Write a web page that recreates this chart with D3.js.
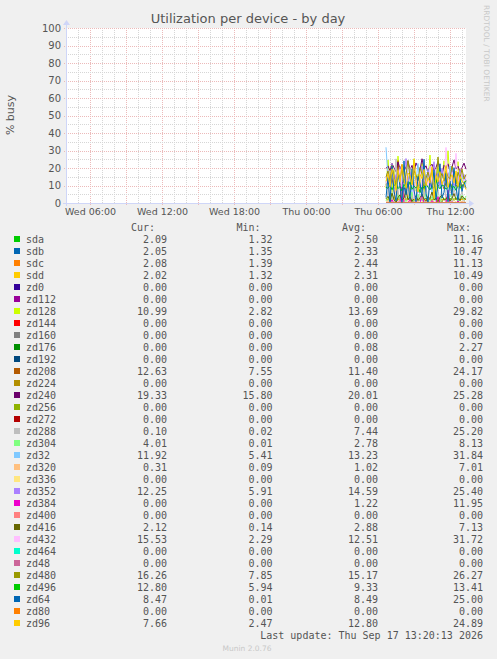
<!DOCTYPE html>
<html>
<head>
<meta charset="utf-8">
<script src="https://cdn.jsdelivr.net/npm/d3@7"></script>
<style>
    body { margin: 0; background: #F0F0F0; }
    svg { display: block; }
</style>
</head>
<body>
<svg class="chart"></svg>
<script>
//
// Munin style "Utilization per device - by day" graph drawn with D3.
//

var deviceNames = ["sda", "sdb", "sdc", "sdd", "zd0", "zd112", "zd128", "zd144", "zd160", "zd176", "zd192",
    "zd208", "zd224", "zd240", "zd256", "zd272", "zd288", "zd304", "zd32", "zd320", "zd336", "zd352",
    "zd384", "zd400", "zd416", "zd432", "zd464", "zd48", "zd480", "zd496", "zd64", "zd80", "zd96"];

var curValues = [2.09, 2.05, 2.08, 2.02, 0, 0, 10.99, 0, 0, 0, 0, 12.63, 0, 19.33, 0, 0, 0.10, 4.01, 11.92, 0.31, 0,
    12.25, 0, 0, 2.12, 15.53, 0, 0, 16.26, 12.80, 8.47, 0, 7.66];
var minValues = [1.32, 1.35, 1.39, 1.32, 0, 0, 2.82, 0, 0, 0, 0, 7.55, 0, 15.80, 0, 0, 0.02, 0.01, 5.41, 0.09, 0,
    5.91, 0, 0, 0.14, 2.29, 0, 0, 7.85, 5.94, 0.01, 0, 2.47];
var avgValues = [2.50, 2.33, 2.44, 2.31, 0, 0, 13.69, 0, 0, 0.08, 0, 11.40, 0, 20.01, 0, 0, 7.44, 2.78, 13.23, 1.02, 0,
    14.59, 1.22, 0, 2.88, 12.51, 0, 0, 15.17, 9.33, 8.49, 0, 12.80];
var maxValues = [11.16, 10.47, 11.13, 10.49, 0, 0, 29.82, 0, 0, 2.27, 0, 24.17, 0, 25.28, 0, 0, 25.20, 8.13, 31.84, 7.01, 0,
    25.40, 11.95, 0, 7.13, 31.72, 0, 0, 26.27, 13.41, 25.00, 0, 24.89];

// Samples (every 10 minutes on Thu Sep 17) - the graph has no data before 06:40.
var sampleTimes = ["06:40", "06:50", "07:00", "07:10", "07:20", "07:30", "07:40", "07:50", "08:00", "08:10", "08:20",
    "08:30", "08:40", "08:50", "09:00", "09:10", "09:20", "09:30", "09:40", "09:50", "10:00", "10:10", "10:20",
    "10:30", "10:40", "10:50", "11:00", "11:10", "11:20", "11:30", "11:40", "11:50", "12:00", "12:10", "12:20",
    "12:30", "12:40", "12:50", "13:00", "13:10", "13:20"];

var flatZero = [0, 0, 0, 0, 0, 0, 0, 0, 0, 0, 0, 0, 0, 0, 0, 0, 0, 0, 0, 0, 0, 0, 0, 0, 0, 0, 0, 0, 0, 0, 0, 0, 0, 0, 0, 0, 0, 0, 0, 0, 0];

var sda = [2.1, 1.8, 2.4, 1.6, 3.0, 2.2, 1.5, 2.8, 11.16, 2.3, 1.9, 2.6, 1.4, 2.0, 3.1, 1.7, 2.2, 1.32, 2.5, 2.9, 1.8, 2.4, 2.0, 1.6, 3.3, 2.1, 1.9, 2.7, 1.5, 2.2, 2.0, 1.8, 2.6, 1.7, 2.3, 1.9, 2.5, 1.6, 2.4, 1.8, 2.09];
var sdb = [1.9, 2.2, 1.6, 2.5, 1.8, 2.0, 2.7, 1.5, 2.1, 10.47, 1.8, 2.3, 1.7, 2.6, 1.9, 1.35, 2.2, 2.4, 1.6, 2.0, 2.8, 1.7, 2.1, 1.9, 2.3, 1.6, 2.5, 2.0, 1.8, 2.2, 1.5, 2.4, 1.9, 2.1, 1.7, 2.3, 2.0, 1.6, 2.2, 1.9, 2.05];
var sdc = [2.3, 1.7, 2.0, 2.6, 1.9, 11.13, 2.2, 1.6, 2.4, 2.0, 1.8, 2.7, 1.5, 2.3, 1.9, 2.1, 2.5, 1.39, 2.2, 2.8, 1.7, 2.0, 2.4, 1.6, 2.1, 2.9, 1.8, 2.3, 2.0, 1.7, 2.5, 2.2, 1.6, 2.4, 1.9, 2.1, 2.6, 1.8, 2.0, 2.3, 2.08];
var sdd = [1.8, 2.4, 1.6, 2.1, 2.5, 1.9, 1.7, 2.2, 2.0, 1.5, 2.6, 1.9, 10.49, 2.1, 1.8, 2.3, 1.6, 2.0, 2.4, 1.32, 2.2, 1.9, 2.5, 1.7, 2.0, 2.3, 1.8, 2.1, 1.6, 2.4, 1.9, 2.2, 1.7, 2.0, 2.5, 1.8, 2.1, 1.6, 2.3, 1.9, 2.02];
var zd128 = [8.5, 24.6, 12.3, 5.1, 18.7, 9.4, 26.8, 14.2, 3.6, 21.5, 11.8, 7.2, 19.9, 13.5, 25.3, 6.8, 16.4, 10.1, 22.7, 4.3, 15.6, 12.9, 27.4, 8.1, 17.3, 2.82, 20.4, 11.6, 14.8, 24.1, 9.7, 29.82, 13.2, 6.5, 18.9, 10.4, 23.6, 7.9, 16.1, 12.7, 10.99];
var zd176 = [0, 0, 0, 0, 0, 0, 0, 0, 0, 0, 0, 0, 0, 2.27, 0, 0, 0, 0, 0, 0, 0, 0, 0, 0, 0, 0, 0, 0, 0.9, 0, 0, 0, 0, 0, 0, 0, 0, 0, 0, 0, 0];
var zd208 = [10.2, 12.8, 9.1, 14.5, 8.3, 11.7, 24.17, 10.6, 9.8, 13.2, 7.55, 12.1, 10.9, 15.3, 9.4, 11.2, 13.8, 8.7, 10.5, 12.4, 9.9, 16.7, 10.3, 8.9, 11.8, 13.1, 9.6, 10.8, 12.2, 8.1, 11.4, 14.6, 9.2, 10.7, 12.9, 9.5, 11.1, 13.4, 8.8, 10.6, 12.63];
var zd240 = [19.8, 21.2, 18.4, 22.6, 20.1, 17.9, 23.4, 19.5, 21.8, 18.2, 20.7, 24.1, 19.0, 21.5, 17.3, 22.9, 20.4, 18.8, 25.28, 19.6, 21.3, 17.6, 20.9, 22.2, 18.5, 20.3, 23.7, 19.2, 15.8, 21.6, 19.9, 22.4, 18.1, 20.6, 24.6, 19.4, 21.1, 17.8, 20.2, 22.8, 19.33];
var zd288 = [12.4, 3.1, 18.6, 0.5, 9.7, 25.2, 2.3, 14.8, 6.1, 0.02, 11.5, 4.2, 20.3, 1.6, 8.9, 15.7, 0.8, 6.4, 13.2, 3.5, 10.1, 0.3, 17.4, 5.8, 2.1, 12.6, 7.3, 0.9, 9.2, 14.1, 1.2, 5.5, 11.8, 0.4, 8.1, 3.9, 13.5, 2.6, 6.7, 1.1, 0.10];
var zd304 = [1.2, 3.5, 0.4, 5.8, 2.1, 0.01, 4.6, 1.8, 8.13, 2.9, 0.7, 3.8, 1.5, 6.2, 0.3, 2.4, 4.9, 1.1, 3.2, 0.6, 5.4, 2.0, 0.9, 3.7, 1.4, 7.1, 2.5, 0.2, 4.3, 1.7, 3.0, 0.8, 5.1, 2.2, 1.3, 3.6, 0.5, 2.8, 4.5, 1.9, 4.01];
var zd32 = [31.84, 14.2, 9.6, 18.3, 11.5, 7.2, 16.8, 12.1, 20.4, 8.9, 13.7, 10.3, 17.5, 6.4, 15.1, 12.8, 22.6, 9.2, 11.9, 14.6, 7.8, 19.1, 12.4, 5.41, 16.3, 10.7, 13.9, 8.5, 18.7, 11.3, 14.9, 9.8, 21.2, 12.6, 7.5, 15.4, 10.9, 13.1, 17.2, 8.8, 11.92];
var zd320 = [0.5, 1.2, 0.3, 0.8, 2.1, 0.4, 0.09, 1.5, 0.6, 0.9, 7.01, 0.7, 1.1, 0.3, 0.5, 1.4, 0.8, 0.2, 0.6, 1.8, 0.4, 0.9, 0.3, 1.3, 0.5, 0.7, 2.4, 0.4, 0.6, 0.2, 1.0, 0.5, 0.8, 0.3, 1.6, 0.4, 0.7, 0.5, 0.9, 0.6, 0.31];
var zd352 = [14.1, 18.6, 11.3, 22.4, 9.8, 16.2, 13.5, 20.7, 8.4, 15.9, 25.4, 12.2, 17.8, 10.6, 19.3, 14.7, 5.91, 16.5, 21.1, 11.9, 13.6, 18.2, 9.5, 15.4, 23.6, 12.8, 16.9, 10.2, 19.8, 14.3, 11.7, 17.4, 13.1, 20.5, 9.9, 15.6, 12.4, 18.9, 14.8, 16.3, 12.25];
var zd384 = [0, 0.4, 0, 1.8, 0, 0, 0.6, 0, 11.95, 0, 0.3, 0, 2.1, 0, 0, 0.8, 0, 0, 5.2, 0, 0.5, 0, 0, 1.4, 0, 0, 3.6, 0, 0.2, 0, 0, 7.3, 0, 0.6, 0, 0, 1.1, 0, 0.4, 0, 0];
var zd416 = [2.4, 3.8, 1.2, 5.6, 2.0, 0.14, 3.1, 4.7, 1.6, 2.9, 7.13, 1.9, 3.5, 0.8, 2.6, 4.2, 1.4, 3.0, 5.1, 2.2, 1.0, 3.7, 2.5, 6.3, 1.8, 2.8, 0.6, 3.4, 4.5, 1.7, 2.3, 3.9, 1.1, 2.7, 5.4, 2.0, 3.2, 1.5, 4.0, 2.6, 2.12];
var zd432 = [11.2, 14.6, 8.3, 17.9, 10.4, 6.7, 13.8, 19.2, 9.1, 12.5, 15.7, 7.4, 11.9, 16.3, 2.29, 13.1, 10.6, 18.4, 8.8, 12.2, 14.9, 9.6, 21.3, 11.4, 7.9, 13.6, 10.2, 16.8, 12.7, 9.3, 31.72, 14.1, 8.6, 17.5, 11.1, 28.4, 13.3, 10.8, 19.6, 12.4, 15.53];
var zd480 = [14.8, 18.3, 12.1, 21.6, 15.4, 9.7, 17.2, 13.5, 19.8, 11.6, 16.1, 24.3, 14.2, 10.8, 18.6, 15.9, 12.7, 20.4, 16.5, 7.85, 14.1, 17.7, 13.3, 19.1, 15.6, 11.4, 26.27, 14.7, 16.9, 12.5, 18.2, 15.1, 13.8, 21.1, 16.4, 10.9, 17.6, 14.3, 19.4, 13.6, 16.26];
var zd496 = [9.1, 8.4, 10.2, 7.6, 9.8, 11.3, 8.2, 9.5, 6.9, 10.7, 8.8, 9.3, 12.1, 7.8, 9.6, 8.5, 10.4, 5.94, 9.2, 8.7, 10.9, 9.0, 7.5, 9.9, 8.3, 13.41, 9.4, 8.1, 10.3, 9.7, 7.9, 8.9, 11.2, 8.6, 9.5, 7.2, 10.1, 8.8, 9.6, 11.5, 12.8];
var zd64 = [3.2, 14.6, 0.5, 21.3, 6.8, 1.2, 17.4, 9.5, 0.01, 24.1, 4.7, 12.3, 2.1, 19.6, 7.4, 0.8, 15.2, 11.1, 3.6, 25.0, 5.3, 0.4, 13.8, 8.2, 18.7, 1.9, 10.6, 22.4, 2.8, 6.1, 16.9, 0.7, 12.5, 4.4, 20.2, 9.3, 1.5, 14.1, 6.6, 11.8, 8.47];
var zd96 = [12.4, 16.8, 9.3, 19.5, 14.2, 7.1, 18.6, 11.9, 22.3, 13.5, 8.4, 17.1, 15.6, 10.2, 24.89, 12.7, 6.3, 16.4, 13.9, 19.2, 9.8, 14.5, 11.3, 20.7, 2.47, 15.8, 12.1, 17.9, 10.6, 14.3, 21.4, 8.9, 13.6, 16.2, 11.5, 18.3, 9.4, 15.1, 12.8, 10.7, 7.66];

// Same order as deviceNames.
var seriesValues = [sda, sdb, sdc, sdd, flatZero, flatZero, zd128, flatZero, flatZero, zd176, flatZero,
    zd208, flatZero, zd240, flatZero, flatZero, zd288, zd304, zd32, zd320, flatZero, zd352,
    zd384, flatZero, zd416, zd432, flatZero, flatZero, zd480, zd496, zd64, flatZero, zd96];

var yTicks = [0, 10, 20, 30, 40, 50, 60, 70, 80, 90, 100];

var muninPalette = ["#00CC00", "#0066B3", "#FF8000", "#FFCC00", "#330099", "#990099", "#CCFF00", "#FF0000", "#808080",
    "#008F00", "#00487D", "#B35A00", "#B38F00", "#6B006B", "#8FB300", "#B30000", "#BEBEBE", "#80FF80", "#80C9FF",
    "#FFC080", "#FFE680", "#AA80FF", "#EE00CC", "#FF8080", "#666600", "#FFBFFF", "#00FFCC", "#CC6699", "#999900"];

window.onload = function () {

    var width = 497;
    var height = 659;

    var plotLeft = 66, plotRight = 466, plotTop = 28, plotBottom = 203; // rrdtool canvas is 400 x 175

    var endTime = new Date(Date.UTC(2026, 8, 17, 13, 20, 0)); // Last update
    var startTime = new Date(endTime.getTime() - 400 * 300 * 1000); // 400 px of 5 minute steps

    var xScale = d3.scaleUtc()
        .domain([startTime, endTime])
        .range([plotLeft, plotRight]);

    var yScale = d3.scaleLinear()
        .domain([0, 100])
        .range([plotBottom, plotTop]);

    var parseSample = d3.utcParse("%Y-%m-%d %H:%M");

    var svg = d3.select("svg.chart")
        .attr("width", width)
        .attr("height", height)
        .attr("font-family", "DejaVu Sans, sans-serif");

    svg.append("rect") // Background.
        .attr("width", width)
        .attr("height", height)
        .attr("fill", "#F0F0F0");

    svg.append("rect") // White plot canvas.
        .attr("x", plotLeft)
        .attr("y", plotTop)
        .attr("width", plotRight - plotLeft)
        .attr("height", plotBottom - plotTop)
        .attr("fill", "#FFFFFF");

    // Grid lines.
    var majorColor = "#ECBABA", minorColor = "#D6D6D6";
    var gridLayer = svg.append("g").attr("shape-rendering", "crispEdges");
    var hours = d3.utcHour.range(d3.utcHour.offset(startTime, 1), endTime);

    hours.forEach(function (t) {
        var major = t.getUTCHours() % 3 === 0;
        var x = Math.round(xScale(t)) + 0.5;
        gridLayer.append("line")
            .attr("x1", x).attr("x2", x)
            .attr("y1", plotTop).attr("y2", major ? plotBottom + 2 : plotBottom)
            .attr("stroke", major ? majorColor : minorColor)
            .attr("stroke-dasharray", "1,1");
    });

    d3.range(5, 105, 5).forEach(function (v) { // every 5 %, red on the tens
        var major = v % 10 === 0;
        var y = Math.round(yScale(v)) + 0.5;
        gridLayer.append("line")
            .attr("x1", major ? plotLeft - 2 : plotLeft).attr("x2", plotRight)
            .attr("y1", y).attr("y2", y)
            .attr("stroke", major ? majorColor : minorColor)
            .attr("stroke-dasharray", "1,1");
    });

    // Y axis labels via d3 axis, then strip the domain/ticks.
    var yAxis = svg.append("g")
        .attr("transform", "translate(" + (plotLeft - 3) + ",0)")
        .call(d3.axisLeft(yScale).tickValues(yTicks).tickSize(0).tickPadding(2));
    yAxis.select(".domain").remove();
    yAxis.selectAll("text")
        .attr("font-family", "DejaVu Sans, sans-serif")
        .attr("font-size", 10)
        .attr("fill", "#555555");

    var labelHours = hours.filter(function (t) { return t.getUTCHours() % 6 === 0; });
    var xAxis = svg.append("g")
        .attr("transform", "translate(0," + plotBottom + ")")
        .call(d3.axisBottom(xScale).tickValues(labelHours).tickFormat(d3.utcFormat("%a %H:%M")).tickSize(0).tickPadding(5));
    xAxis.select(".domain").remove();
    xAxis.selectAll("text")
        .attr("font-family", "DejaVu Sans, sans-serif")
        .attr("font-size", 9.5)
        .attr("fill", "#555555");

    // Data lines, drawn in legend order so the last ones sit on top.
    var line = d3.line()
        .x(function (d) { return xScale(d.time); })
        .y(function (d) { return yScale(d.value); });

    var lineLayer = svg.append("g");
    seriesValues.forEach(function (values, i) {
        var points = values.map(function (v, k) {
            return { time: parseSample("2026-09-17 " + sampleTimes[k]), value: v };
        });
        lineLayer.append("path")
            .datum(points)
            .attr("d", line)
            .attr("fill", "none")
            .attr("stroke", muninPalette[i % muninPalette.length])
            .attr("stroke-width", 1);
    });

    // Axis lines and arrows.
    var axisColor = "#CFD6F8";
    svg.append("line")
        .attr("x1", plotLeft - 3).attr("x2", plotRight + 3)
        .attr("y1", plotBottom + 0.5).attr("y2", plotBottom + 0.5)
        .attr("stroke", axisColor);
    svg.append("line")
        .attr("x1", plotLeft + 0.5).attr("x2", plotLeft + 0.5)
        .attr("y1", plotBottom + 3).attr("y2", plotTop - 4)
        .attr("stroke", axisColor);
    svg.append("path") // right arrow
        .attr("d", "M" + (plotRight + 3) + "," + (plotBottom - 3) + " L" + (plotRight + 8) + "," + (plotBottom + 0.5) + " L" + (plotRight + 3) + "," + (plotBottom + 4) + "Z")
        .attr("fill", axisColor);
    svg.append("path") // top arrow
        .attr("d", "M" + (plotLeft - 3) + "," + (plotTop - 3) + " L" + (plotLeft + 0.5) + "," + (plotTop - 8) + " L" + (plotLeft + 4) + "," + (plotTop - 3) + "Z")
        .attr("fill", axisColor);

    // Title and labels.
    svg.append("text")
        .attr("x", 248)
        .attr("y", 23)
        .attr("text-anchor", "middle")
        .attr("font-size", 13)
        .attr("fill", "#555555")
        .text("Utilization per device - by day");

    svg.append("text")
        .attr("transform", "translate(14,115) rotate(-90)")
        .attr("text-anchor", "middle")
        .attr("font-size", 11)
        .attr("fill", "#555555")
        .text("% busy");

    svg.append("text")
        .attr("transform", "translate(484,5) rotate(90)")
        .attr("font-size", 7.5)
        .attr("fill", "#C8C8C8")
        .text("RRDTOOL / TOBI OETIKER");

    // Legend table.
    var legend = svg.append("g")
        .attr("font-family", "DejaVu Sans Mono, monospace")
        .attr("font-size", 10)
        .attr("fill", "#555555");

    var columns = [ // header, values, right edge
        { head: "Cur:", values: curValues, right: 167 },
        { head: "Min:", values: minValues, right: 272.5 },
        { head: "Avg:", values: avgValues, right: 378 },
        { head: "Max:", values: maxValues, right: 483 }
    ];

    columns.forEach(function (col) {
        legend.append("text")
            .attr("x", col.right - 12)
            .attr("y", 231)
            .attr("text-anchor", "end")
            .text(col.head);
    });

    var rows = legend.selectAll("g.row")
        .data(deviceNames)
        .enter()
            .append("g")
            .attr("class", "row")
            .attr("transform", function (name, i) { return "translate(0," + (243 + i * 12) + ")"; });

    rows.append("rect")
        .attr("x", 14)
        .attr("y", -7)
        .attr("width", 6)
        .attr("height", 6)
        .attr("fill", function (name, i) { return muninPalette[i % muninPalette.length]; });

    rows.append("text")
        .attr("x", 26)
        .text(function (name) { return name; });

    columns.forEach(function (col) {
        rows.append("text")
            .attr("x", col.right)
            .attr("text-anchor", "end")
            .text(function (name, i) { return col.values[i].toFixed(2); });
    });

    legend.append("text")
        .attr("x", 483)
        .attr("y", 243 + deviceNames.length * 12)
        .attr("text-anchor", "end")
        .text("Last update: Thu Sep 17 13:20:13 2026");

    svg.append("text")
        .attr("x", 247)
        .attr("y", 651)
        .attr("text-anchor", "middle")
        .attr("font-size", 7.5)
        .attr("fill", "#C8C8C8")
        .text("Munin 2.0.76");
};
</script>
</body>
</html>
